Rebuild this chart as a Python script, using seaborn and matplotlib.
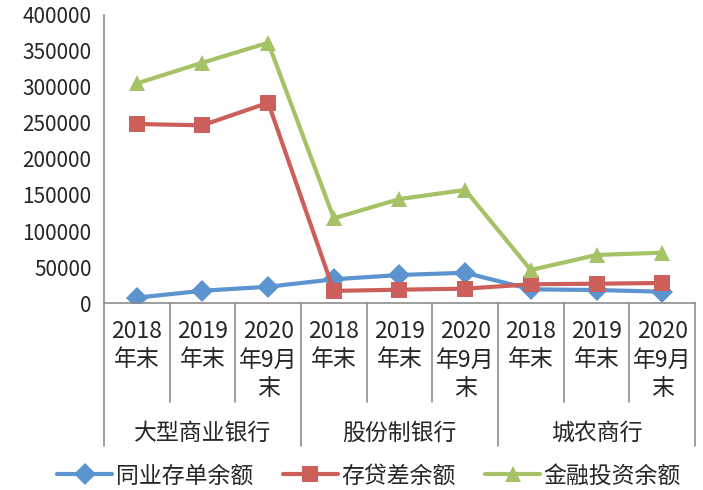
# Importing the libraries
import numpy as np
import matplotlib
matplotlib.use('Agg')
import matplotlib.pyplot as plt
import pandas as pd
import seaborn as sns
from matplotlib.lines import Line2D
from matplotlib.transforms import blended_transform_factory

# Chart data
groups = ['大型商业银行', '股份制银行', '城农商行']
periods = ['2018\n年末', '2019\n年末', '2020\n年9月\n末']
series_names = ['同业存单余额', '存贷差余额', '金融投资余额']
ncd_balance = [7400, 17000, 22600, 32900, 38900, 42000, 19000, 18000, 15700]
loan_gap = [248600, 246800, 278200, 16800, 18500, 19900, 26000, 26800, 27800]
invest_balance = [305000, 333800, 361500, 117600, 144400, 157000, 45800, 66700, 69900]
y_ticks = [0, 50000, 100000, 150000, 200000, 250000, 300000, 350000, 400000]

# Long format table for seaborn
x_labels = [p for g in groups for p in periods]
rows = []
for name, vals in zip(series_names, [ncd_balance, loan_gap, invest_balance]):
    for i, v in enumerate(vals):
        rows.append({'idx': i, 'value': v, 'series': name})
df = pd.DataFrame(rows)

sns.set_style('white')
plt.rcParams['font.family'] = ['Noto Sans CJK SC', 'DejaVu Sans']
fs = 15
fs_cjk = 16.5

colors = {'同业存单余额': '#5B94CE', '存贷差余额': '#CC5F5A', '金融投资余额': '#A5C266'}
markers = {'同业存单余额': 'D', '存贷差余额': 's', '金融投资余额': '^'}
gray = '#8C8C8C'

fig = plt.figure(figsize=(7.03, 4.9), dpi=100)
ax = fig.add_axes([104/703, 1-303/490, (695-104)/703, 288/490])

sns.lineplot(data=df, x='idx', y='value', hue='series', style='series',
             palette=colors, markers=markers, dashes=False, linewidth=3,
             markersize=11, markeredgewidth=0, ax=ax, legend=False)

ax.set_xlim(-0.5, 8.5)
ax.set_ylim(0, 400000)
ax.set_yticks(y_ticks)
ax.set_yticklabels([str(t) for t in y_ticks], fontsize=fs)
ax.set_xticks([])
ax.set_xlabel('')
ax.set_ylabel('')
ax.tick_params(axis='y', direction='in', length=5, width=1.2, color=gray, pad=9)

for s in ['top', 'right']:
    ax.spines[s].set_visible(False)
for s in ['left', 'bottom']:
    ax.spines[s].set_color(gray)
    ax.spines[s].set_linewidth(1.2)

# Multi-level category axis
trans = blended_transform_factory(ax.transData, fig.transFigure)
for i in range(10):
    x = i - 0.5
    y_end = 446 if i % 3 == 0 else 402
    ax.add_line(Line2D([x, x], [1-303/490, 1-y_end/490], transform=trans,
                       color=gray, lw=1.2, clip_on=False))

for i, lab in enumerate(x_labels):
    ax.text(i, 1-320/490, lab, transform=trans, ha='center', va='top',
            fontsize=fs_cjk, linespacing=1.3)

for j, g in enumerate(groups):
    ax.text(3*j + 1, 1-433/490, g, transform=trans, ha='center', va='center',
            fontsize=fs_cjk)

# Legend at the bottom
handles = [Line2D([], [], color=colors[n], marker=markers[n], lw=3,
                  markersize=11, markeredgewidth=0) for n in series_names]
fig.legend(handles, series_names, loc='center', bbox_to_anchor=(0.525, 1-476/490),
           ncol=3, frameon=False, fontsize=fs_cjk, handlelength=2.4,
           handletextpad=0.15, columnspacing=1.3)

plt.savefig('out.png', dpi=100)
